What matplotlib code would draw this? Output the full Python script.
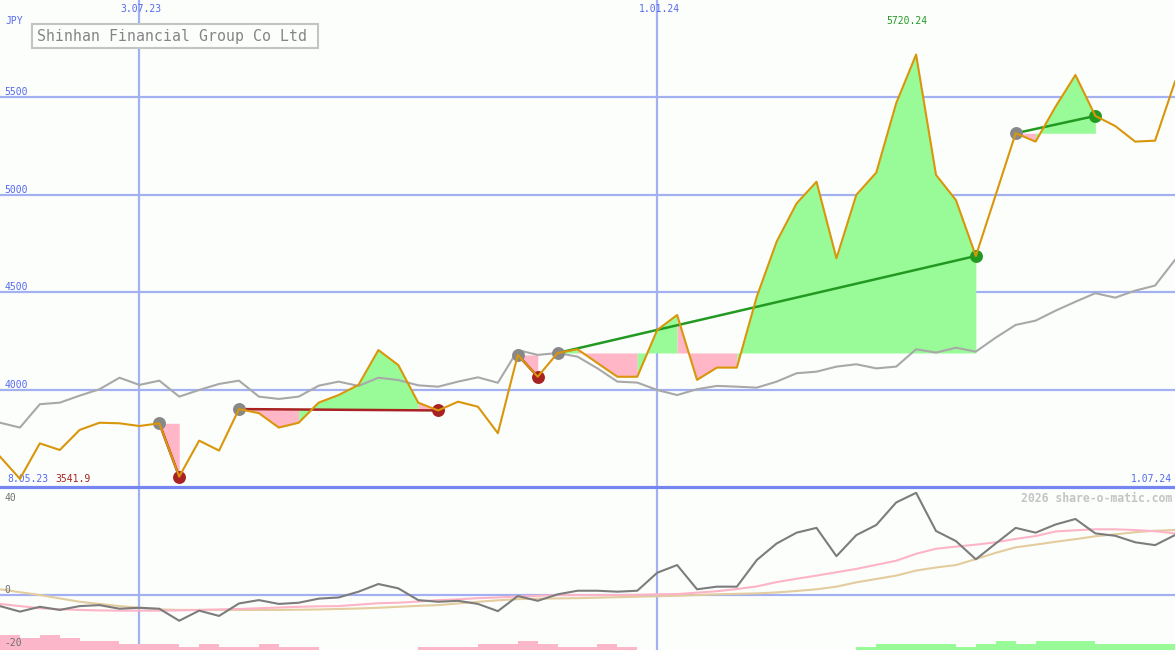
import numpy as np
import matplotlib
matplotlib.use('Agg')
import matplotlib.pyplot as plt
from matplotlib.patches import Rectangle

W, H = 1175, 650
BG = '#fcfefc'
GRID = '#a3b1f2'
BLUE = '#5468ee'
MONO = 'DejaVu Sans Mono'

# weekly closes (JPY), first week 15.05.23, last week 1.07.24
price = [3656, 3542, 3724, 3690, 3793, 3830, 3827, 3813, 3827, 3553,
         3738, 3687, 3900, 3879, 3805, 3830, 3933, 3972, 4024, 4203,
         4126, 3933, 3893, 3938, 3912, 3776, 4178, 4066, 4188, 4207,
         4136, 4066, 4066, 4306, 4383, 4050, 4113, 4113, 4477, 4760,
         4956, 5067, 4674, 5000, 5114, 5470, 5720, 5102, 4973, 4686,
         5000, 5316, 5273, 5452, 5615, 5405, 5353, 5273, 5278, 5581]

# grey comparison line
bench = [3830, 3805, 3925, 3933, 3969, 4002, 4061, 4024, 4046, 3964,
         3998, 4029, 4046, 3964, 3952, 3964, 4020, 4041, 4019, 4061,
         4049, 4022, 4015, 4041, 4063, 4035, 4203, 4178, 4188, 4169,
         4109, 4041, 4036, 3998, 3972, 4002, 4019, 4015, 4010, 4041,
         4084, 4092, 4118, 4130, 4109, 4118, 4207, 4190, 4215, 4195,
         4267, 4332, 4354, 4405, 4451, 4495, 4472, 4508, 4534, 4666]

# trades: (buy week, sell week)
trades = [(8, 9), (12, 22), (26, 27), (28, 49), (51, 55)]

# lower panel
mom = [-4.6, -6.9, -4.9, -6.2, -4.6, -4.2, -5.7, -5.3, -5.7, -10.7,
       -6.5, -8.7, -3.5, -2.1, -3.7, -3.2, -1.5, -1.0, 1.4, 4.6,
       2.8, -2.1, -2.8, -2.4, -3.7, -6.7, -0.4, -2.4, 0.3, 1.8,
       1.8, 1.4, 1.8, 9.3, 12.5, 2.4, 3.5, 3.5, 14.6, 21.5,
       26.0, 28.0, 16.2, 25.0, 29.2, 38.6, 42.6, 26.7, 22.5, 14.9,
       21.5, 28.0, 26.0, 29.4, 31.7, 25.7, 24.7, 22.0, 20.8, 25.0]
mom_fast = [-3.7, -4.6, -5.5, -5.9, -6.2, -6.4, -6.5, -6.5, -6.5, -6.4,
            -6.2, -6.0, -5.8, -5.5, -5.2, -4.9, -4.7, -4.6, -4.0, -3.4,
            -3.2, -2.7, -2.1, -1.8, -1.3, -1.0, -0.6, -0.3, 0.0, 0.0,
            0.0, 0.0, 0.1, 0.3, 0.4, 1.0, 1.6, 2.5, 3.6, 5.4,
            6.8, 8.1, 9.5, 10.9, 12.6, 14.3, 17.2, 19.3, 20.2, 21.0,
            22.0, 23.4, 24.6, 26.5, 27.0, 27.4, 27.4, 27.1, 26.6, 25.7]
mom_slow = [2.4, 1.2, 0.0, -1.4, -2.8, -3.7, -4.6, -5.3, -6.0, -6.2,
            -6.2, -6.2, -6.2, -6.2, -6.2, -6.1, -6.0, -5.8, -5.6, -5.3,
            -4.9, -4.5, -4.2, -3.5, -2.8, -2.2, -1.7, -1.5, -1.4, -1.3,
            -1.1, -0.9, -0.7, -0.5, -0.3, 0.0, 0.3, 0.5, 0.7, 1.1,
            1.7, 2.4, 3.5, 5.3, 6.7, 8.1, 10.2, 11.5, 12.5, 15.0,
            17.6, 19.9, 21.0, 22.2, 23.3, 24.5, 25.3, 26.2, 26.8, 27.1]
neg_bars = [6.2, 5.0, 6.2, 5.0, 3.8, 3.8, 2.5, 2.5, 2.5, 1.3,
            2.5, 1.3, 1.3, 2.5, 1.3, 1.3, 0, 0, 0, 0,
            0, 1.3, 1.3, 1.3, 2.5, 2.5, 3.8, 2.5, 1.3, 1.3,
            2.5, 1.3, 0, 0, 0, 0, 0, 0, 0, 0,
            0, 0, 0, 0, 0, 0, 0, 0, 0, 0,
            0, 0, 0, 0, 0, 0, 0, 0, 0]
pos_bars = [0] * 43 + [1.3, 2.5, 2.5, 2.5, 2.5, 1.3, 2.5, 3.8, 2.5, 3.8,
                       3.8, 3.8, 2.5, 2.5, 2.5, 2.5]

date_lines = [(7, '3.07.23'), (33, '1.01.24')]
price_ticks = [4000, 4500, 5000, 5500]
mom_ticks = [40, 0, -20]

x = np.arange(len(price))
p = np.array(price, dtype=float)

fig = plt.figure(figsize=(W / 100, H / 100), dpi=100, facecolor=BG)
ax1 = fig.add_axes([0, 163 / H, 1, 487 / H])
ax2 = fig.add_axes([0, 0, 1, 161 / H])
for ax in (ax1, ax2):
    ax.set_facecolor(BG)
    ax.set_xlim(0, len(price) - 1)
    ax.axis('off')
ax1.set_ylim(3500, 6000)
ax2.set_ylim(-22.9, 44.2)

# grid
for v in price_ticks:
    ax1.axhline(v, color=GRID, lw=1.6, zorder=0)
    ax1.text(0.004, v, str(v), transform=ax1.get_yaxis_transform(), color=BLUE,
             fontsize=7, family=MONO, va='bottom', ha='left')
for i, lab in date_lines:
    ax1.axvline(i, color=GRID, lw=1.6, zorder=0)
    ax2.axvline(i, color=GRID, lw=1.6, zorder=0)
    ax1.text(i + 0.1, 0.982, lab, transform=ax1.get_xaxis_transform(), color=BLUE,
             fontsize=7, family=MONO, va='center', ha='center')
ax1.axhline(3500, color='#7586f0', lw=2.3, clip_on=False, zorder=6)
ax2.axhline(0, color=GRID, lw=1.6, zorder=0)

# trade fills: each week coloured by where it closes against the buy price,
# runs of the same colour are filled in one go so no seams show
for b, s in trades:
    lvl = p[b]
    cols = ['#98fb98' if p[k + 1] >= lvl else '#ffb6c6' for k in range(b, s)]
    start = b
    for k in range(b, s):
        if k == s - 1 or cols[k + 1 - b] != cols[k - b]:
            ax1.fill_between(x[start:k + 2], p[start:k + 2], lvl,
                             color=cols[k - b], lw=0, zorder=1)
            start = k + 1

ax1.plot(x, bench, color='#a8a8a8', lw=1.5, zorder=2)

for b, s in trades:
    win = p[s] >= p[b]
    col = '#229a22' if win else '#a82222'
    ax1.plot([b, s], [p[b], p[s]], color=col, lw=1.8, zorder=3,
             solid_capstyle='butt')
    ax1.plot(b, p[b], 'o', ms=9.3, color='#888888', mec='none', zorder=4)
    ax1.plot(s, p[s], 'o', ms=9.3, color=col, mec='none', zorder=4)

ax1.plot(x, p, color='#d9960a', lw=1.5, zorder=5)

imax = int(np.argmax(p))
ax1.text(imax - 0.45, 0.956, '%.2f' % 5720.24, transform=ax1.get_xaxis_transform(),
         color='#229a22', fontsize=7, family=MONO, ha='center', va='center')
ax1.text(0.006, 0.0165, '8.05.23', transform=ax1.transAxes, color=BLUE,
         fontsize=7, family=MONO, ha='left', va='center')
ax1.text(0.0475, 0.0165, '3541.9', transform=ax1.transAxes, color='#a82222',
         fontsize=7, family=MONO, ha='left', va='center')
ax1.text(0.9975, 0.0165, '1.07.24', transform=ax1.transAxes, color=BLUE,
         fontsize=7, family=MONO, ha='right', va='center')
ax1.text(0.005, 0.957, 'JPY', transform=ax1.transAxes, color=BLUE,
         fontsize=7, family=MONO, ha='left', va='center')

# title box
fig.patches.append(Rectangle((32 / W, 1 - 48 / H), 286 / W, 24 / H,
                             transform=fig.transFigure, fc=BG, ec='#c4c4c4',
                             lw=1.5, zorder=10))
fig.text(37 / W, 1 - 36.5 / H, 'Shinhan Financial Group Co Ltd', color='#858585',
         fontsize=10.7, family=MONO, ha='left', va='center', zorder=11)

# lower panel
bottom = ax2.get_ylim()[0]
ax2.bar(x[:-1] + 0.5, neg_bars, width=1.0, bottom=bottom, color='#fbb6ca',
        lw=0, zorder=1)
ax2.bar(x[:-1] + 0.5, pos_bars, width=1.0, bottom=bottom, color='#98fb98',
        lw=0, zorder=1)
ax2.plot(x, mom_slow, color='#e3cc9e', lw=1.5, zorder=2)
ax2.plot(x, mom_fast, color='#fdb4c6', lw=1.5, zorder=3)
ax2.plot(x, mom, color='#7c7c7c', lw=1.5, zorder=4)
offs = {40: -1.5, 0: 0, -20: -2.0}
for v in mom_ticks:
    ax2.text(0.004, v + offs[v], str(v), transform=ax2.get_yaxis_transform(),
             color='#707070', fontsize=7, family=MONO, va='bottom', ha='left')
ax2.text(0.9975, 0.94, '2026 share-o-matic.com', transform=ax2.transAxes,
         color='#c4c4c4', fontsize=8.3, family=MONO, weight='bold',
         ha='right', va='center')

fig.savefig('out.png', dpi=100, facecolor=BG)
